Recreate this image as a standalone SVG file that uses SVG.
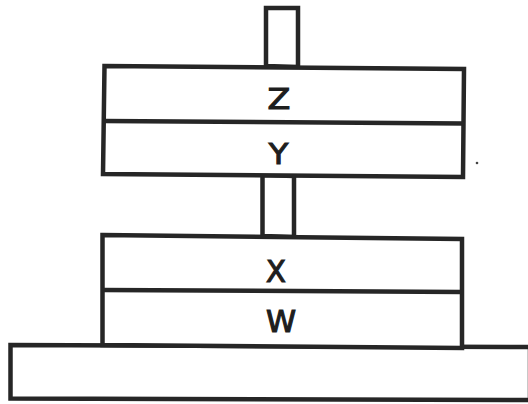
<svg xmlns="http://www.w3.org/2000/svg" width="528" height="404" viewBox="0 0 528 404">
<style>
.s{fill:#fff;stroke:#262626;stroke-width:4.5;stroke-linejoin:miter}
.l{fill:none;stroke:#262626;stroke-width:4.5}
.t{font-family:"DejaVu Sans","Liberation Sans",sans-serif;font-size:29px;fill:#1e1e1e;stroke:#1e1e1e;stroke-width:1.1;text-anchor:middle}
</style>
<rect width="528" height="404" fill="#fff"/>
<g id="rod-top"><polygon class="s" points="266,8 298,8 298,67 266,66"/></g>
<g id="rod-mid"><polygon class="s" points="262.5,175 294,176 294,237 262.5,236"/></g>
<g id="base"><polygon class="s" points="10.5,345 530,347 530,400 10.5,398.5"/></g>
<g id="block-zy">
<polygon class="s" points="104.5,66 464,69 463,177 103,174"/>
<line class="l" x1="104" y1="121" x2="464" y2="123.5"/>
</g>
<g id="block-xw">
<polygon class="s" points="102.5,235 462,239 462,348 102.5,345"/>
<line class="l" x1="102.5" y1="290" x2="462" y2="292"/>
</g>
<g id="labels">
<text class="t" transform="translate(279,108.5) scale(1.15,1)">Z</text>
<text class="t" transform="translate(278.5,163.5) scale(1.1,1)">Y</text>
<text class="t" transform="translate(276,281.5) scale(1,1.05)">X</text>
<text class="t" transform="translate(281,331.5) scale(1.05,1.05)">W</text>
</g>
<circle cx="477" cy="163" r="1.3" fill="#444"/>
</svg>
